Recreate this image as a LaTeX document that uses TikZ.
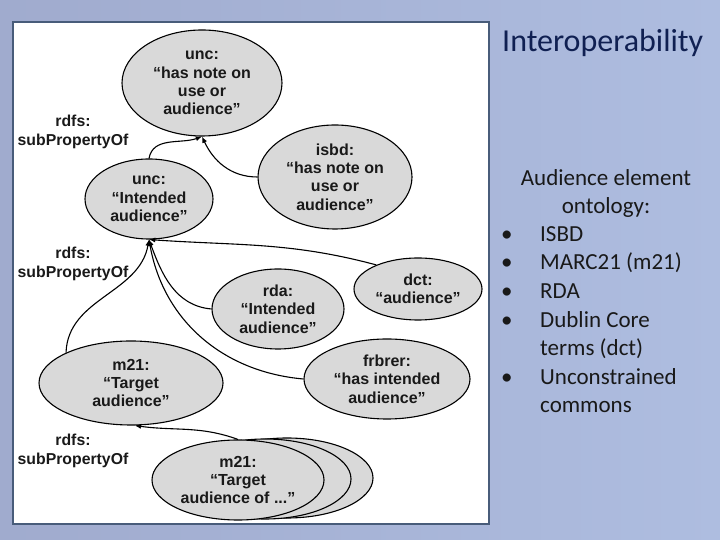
\documentclass[tikz,border=0pt]{standalone}
\usepackage{fontspec}
\setmainfont{Liberation Sans}
\newfontfamily\slidefont{Carlito}
\usetikzlibrary{shapes.geometric, arrows.meta, positioning, calc}
\definecolor{slidebg}{RGB}{160,171,206}
\definecolor{slidebgr}{RGB}{174,189,224}
\definecolor{framecol}{RGB}{72,92,122}
\definecolor{ovalfill}{RGB}{217,217,217}
\definecolor{titleblue}{RGB}{16,32,82}

\begin{document}
\begin{tikzpicture}[
    x=1pt, y=1pt,
    prop/.style={ellipse, draw, line width=1.1pt, fill=ovalfill, inner sep=0pt, align=center, text=black!90, font=\fontsize{16}{18.3}\selectfont\bfseries},
    rel/.style={align=center, inner sep=0pt, text=black!90, font=\fontsize{15.8}{19}\selectfont\bfseries},
    arrow/.style={-{Latex[length=2.2mm, width=1.8mm]}, line width=1.1pt},
    title/.style={inner sep=0pt, text=titleblue, font=\slidefont\fontsize{32}{36}\selectfont},
    body/.style={inner sep=0pt, text=black!90, font=\slidefont\fontsize{23}{28.6}\selectfont}
]
    \useasboundingbox (0,0) rectangle (720,540);
    % slide background and picture frame
    \shade[left color=slidebg, right color=slidebgr] (0,0) rectangle (720,540);
    \draw[framecol, line width=1.6pt, fill=white] (13,16) rectangle (489,518);

    % properties
    \node[prop, minimum width=160pt, minimum height=106pt] (uncnote) at (202,457) {unc:\\“has note on\\use or\\audience”};
    \node[prop, minimum width=128pt, minimum height=80pt] (uncint) at (149,341) {unc:\\“Intended\\audience”};
    \node[prop, minimum width=154pt, minimum height=104pt] (isbd) at (335,363) {isbd:\\“has note on\\use or\\audience”};
    \node[prop, minimum width=128pt, minimum height=62pt] (dct) at (418,251) {dct:\\“audience”};
    \node[prop, minimum width=132pt, minimum height=80pt] (rda) at (278,231) {rda:\\“Intended\\audience”};
    \node[prop, minimum width=166pt, minimum height=80pt] (frbrer) at (387,161) {frbrer:\\“has intended\\audience”};
    \node[prop, minimum width=184pt, minimum height=84pt] (m21) at (131,157) {m21:\\“Target\\audience”};
    \node[prop, minimum width=172pt, minimum height=80pt] (m21subc) at (287,62) {};
    \node[prop, minimum width=172pt, minimum height=80pt] (m21subb) at (265,61) {};
    \node[prop, minimum width=172pt, minimum height=80pt] (m21sub) at (238,60) {m21:\\“Target\\audience of ...”};

    \node[rel] (sub1) at (73,408) {rdfs:\\subPropertyOf};
    \node[rel] (sub2) at (73,276) {rdfs:\\subPropertyOf};
    \node[rel] (sub3) at (73,89) {rdfs:\\subPropertyOf};

    \draw[arrow] (uncint.north) to[out=80, in=200] (uncnote.south);
    \draw[arrow] (isbd.west) to[out=180, in=-65] (uncnote.south);
    \draw[arrow] (dct.150) to[out=165, in=-4] (uncint.south);
    \draw[arrow] (rda.west) to[out=175, in=-70] (uncint.south);
    \draw[arrow] (frbrer.west) to[out=175, in=-80] (uncint.south);
    \draw[arrow] (m21.155) to[out=88, in=-100] (uncint.south);
    \draw[arrow] (m21sub.north) to[out=160, in=-8] (m21.-85);

    % slide text
    \node[title, anchor=base west] (head) at (502,488) {Interoperability};
    \node[body, anchor=base] (aud) at (606,354) {Audience element};
    \node[body, anchor=base] (onto) at (606,326) {ontology:};
    \node[body, anchor=base west] (isbdtxt) at (501,298.6) {\makebox[39pt][l]{•}ISBD};
    \node[body, anchor=base west] (marctxt) at (501,270) {\makebox[39pt][l]{•}MARC21 (m21)};
    \node[body, anchor=base west] (rdatxt) at (501,241.4) {\makebox[39pt][l]{•}RDA};
    \node[body, anchor=base west] (dctxt) at (501,212.8) {\makebox[39pt][l]{•}Dublin Core};
    \node[body, anchor=base west] (dctxtb) at (501,184.2) {\hspace*{39pt}terms (dct)};
    \node[body, anchor=base west] (unctxt) at (501,155.6) {\makebox[39pt][l]{•}Unconstrained};
    \node[body, anchor=base west] (unctxtb) at (501,127) {\hspace*{39pt}commons};
\end{tikzpicture}
\end{document}
